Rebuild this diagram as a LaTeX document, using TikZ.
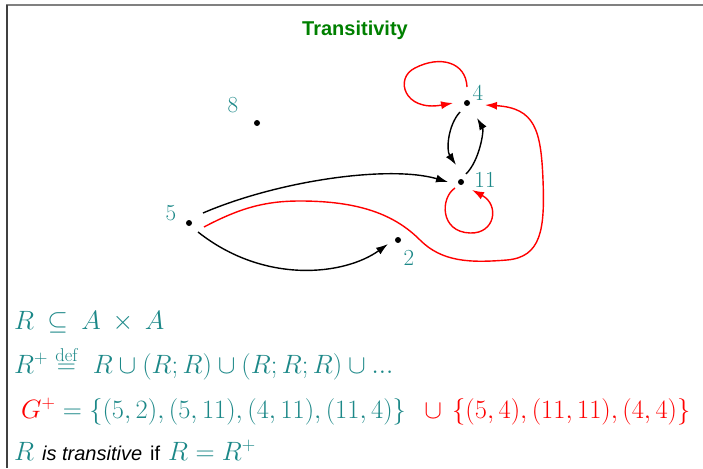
\RequirePackage{fix-cm}
\documentclass[tikz,border=0pt]{standalone}
\usepackage{fontspec}
\newfontfamily\arial{Liberation Sans}
\usetikzlibrary{arrows.meta,calc}
\definecolor{tealc}{RGB}{28,136,136}
\definecolor{titlegreen}{RGB}{0,128,0}
\begin{document}
\begin{tikzpicture}[x=1pt,y=-1pt,
  vtx/.style={inner sep=0pt, minimum size=0pt},
  lbl/.style={text=tealc, font=\fontsize{23}{27}\selectfont, inner sep=0pt},
  blk/.style={black, line width=1.4pt, -{Latex[length=12pt,width=8pt]}},
  rd/.style={red, line width=1.4pt, -{Latex[length=12pt,width=8pt]}},
  mathline/.style={anchor=base west, inner sep=0pt, text=tealc, font=\fontsize{26.5}{30}\selectfont},
]
\useasboundingbox (0,0) rectangle (703,468);
\draw[gray, line width=2pt] (6,5.5) -- (703,5.5);
\draw[darkgray, line width=2pt] (6.5,5) -- (6.5,468);

\node[font=\arial\bfseries\fontsize{20}{24}\selectfont, text=titlegreen] (title) at (355,30) {Transitivity};

% vertices
\node[vtx] (n8) at (257,123) {};
\node[vtx] (n5) at (189,223) {};
\node[vtx] (n2) at (398,240) {};
\node[vtx] (n11) at (461,182) {};
\node[vtx] (n4) at (467,103) {};
\foreach \v in {n8,n5,n2,n11,n4} \fill (\v) circle (3);

\node[lbl] (l8) at (233,105) {8};
\node[lbl] (l5) at (171,213) {5};
\node[lbl] (l2) at (409,258) {2};
\node[lbl] (l11) at (485,180) {11};
\node[lbl] (l4) at (478,93) {4};

% black edges
\draw[blk] ($(n5)+(14,-10)$) .. controls (280,180) and (390,165) .. ($(n11)+(-13,0)$);
\draw[blk] ($(n5)+(9,9)$) .. controls (265,285) and (345,275) .. ($(n2)+(-10,4)$);
\draw[blk] ($(n4)+(-7,9)$) .. controls (448,125) and (446,150) .. ($(n11)+(-5,-17)$);
\draw[blk] ($(n11)+(5,-8)$) .. controls (480,160) and (484,130) .. ($(n4)+(10,15)$);

% red edges
\draw[rd] ($(n5)+(15,4)$) .. controls (240,208) and (265,201) .. (300,201)
  .. controls (360,201) and (395,215) .. (420,240)
  .. controls (442,262) and (470,263) .. (507,260)
  .. controls (541,257) and (545,230) .. (543,180)
  .. controls (541,130) and (535,108) .. ($(n4)+(18,2)$);
\draw[rd] ($(n4)+(0,-16)$) .. controls (466,62) and (440,55) .. (415,68)
  .. controls (394,78) and (404,112) .. ($(n4)+(-14,0)$);
\draw[rd] ($(n11)+(-6,6)$) .. controls (440,198) and (440,232) .. (470,233)
  .. controls (495,234) and (500,205) .. ($(n11)+(11,8)$);

% text lines
\node[mathline] (m1) at (14,329) {$R\:\subseteq\:A\:\times\:A$};
\node[mathline] (m2) at (14,373) {$R^+\stackrel{\mathrm{def}}{=}\ R\cup(R;R)\cup(R;R;R)\cup...$};
\node[mathline] (m3) at (21,418) {$\textcolor{red}{G^+}=\{(5,2),(5,11),(4,11),(11,4)\}\ \,\color{red}\cup\,\{(5,4),(11,11),(4,4)\}$};
\node[mathline] (m4) at (14,460) {$R$ \textcolor{black}{\arial\fontsize{20}{24}\selectfont\itshape is transitive} \textcolor{black}{\arial\fontsize{20}{24}\selectfont if} $R=R^+$};
\end{tikzpicture}
\end{document}
